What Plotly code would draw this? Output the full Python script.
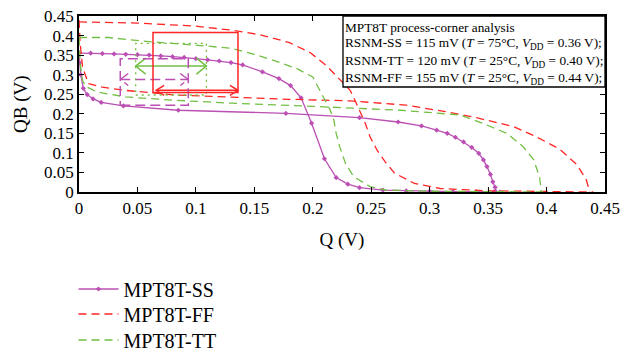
import plotly.graph_objects as go

# ---------------- data ----------------
tick_vals = [0, 0.05, 0.1, 0.15, 0.2, 0.25, 0.3, 0.35, 0.4, 0.45]
tick_text = ["0", "0.05", "0.1", "0.15", "0.2", "0.25", "0.3", "0.35", "0.4", "0.45"]

# SS corner (markers), two butterfly branches
ss_a_x = [0, 0.01, 0.02, 0.03, 0.04, 0.05, 0.06, 0.07, 0.08, 0.09, 0.10, 0.11, 0.12, 0.13,
          0.14, 0.157, 0.171, 0.181, 0.190, 0.199, 0.210, 0.220, 0.230, 0.240, 0.26, 0.28,
          0.30, 0.32, 0.34, 0.355, 0.36]
ss_a_y = [0.355, 0.355, 0.354, 0.353, 0.352, 0.351, 0.350, 0.348, 0.346, 0.344, 0.341, 0.338,
          0.335, 0.331, 0.325, 0.307, 0.290, 0.272, 0.241, 0.176, 0.085, 0.037, 0.020, 0.011,
          0.005, 0.003, 0.002, 0.001, 0.0005, 0.0002, 0]
ss_b_x = [0, 0.0005, 0.0015, 0.0037, 0.007, 0.012, 0.019, 0.038, 0.085, 0.177, 0.240, 0.273,
          0.293, 0.306, 0.315, 0.322, 0.329, 0.336, 0.342, 0.346, 0.349, 0.352, 0.354, 0.356, 0.357]
ss_b_y = [0.355, 0.33, 0.30, 0.265, 0.249, 0.238, 0.229, 0.220, 0.209, 0.201, 0.190, 0.179,
          0.169, 0.158, 0.150, 0.140, 0.128, 0.114, 0.099, 0.082, 0.065, 0.045, 0.026, 0.012, 0]

# FF corner
ff_a_x = [0, 0.05, 0.10, 0.13, 0.155, 0.18, 0.198, 0.212, 0.223, 0.232, 0.236, 0.240, 0.245,
          0.249, 0.255, 0.262, 0.270, 0.287, 0.309, 0.35, 0.40, 0.44]
ff_a_y = [0.435, 0.432, 0.424, 0.414, 0.402, 0.382, 0.356, 0.322, 0.288, 0.260, 0.235, 0.209,
          0.175, 0.141, 0.107, 0.077, 0.048, 0.022, 0.009, 0.003, 0.001, 0]
ff_b_x = [0, 0.001, 0.003, 0.008, 0.02, 0.039, 0.082, 0.131, 0.18, 0.232, 0.2575, 0.28,
          0.3145, 0.34, 0.372, 0.392, 0.411, 0.426, 0.434, 0.437]
ff_b_y = [0.44, 0.38, 0.32, 0.277, 0.268, 0.260, 0.248, 0.242, 0.237, 0.233, 0.228, 0.222,
          0.205, 0.190, 0.167, 0.140, 0.110, 0.070, 0.031, 0]

# TT corner
tt_a_x = [0, 0.025, 0.054, 0.082, 0.11, 0.131, 0.15, 0.165, 0.186, 0.200, 0.206, 0.212, 0.215,
          0.218, 0.220, 0.223, 0.228, 0.235, 0.249, 0.263, 0.30, 0.35, 0.40]
tt_a_y = [0.395, 0.395, 0.386, 0.380, 0.373, 0.367, 0.352, 0.338, 0.316, 0.294, 0.260, 0.230,
          0.209, 0.184, 0.150, 0.116, 0.073, 0.039, 0.014, 0.005, 0.002, 0.001, 0]
tt_b_x = [0, 0.001, 0.003, 0.006, 0.015, 0.04, 0.08, 0.13, 0.20, 0.275, 0.326, 0.346, 0.366,
          0.380, 0.389, 0.394, 0.3955]
tt_b_y = [0.395, 0.33, 0.285, 0.270, 0.256, 0.243, 0.235, 0.227, 0.219, 0.209, 0.197, 0.175,
          0.150, 0.116, 0.082, 0.039, 0]

# SNM squares and arrows (data coordinates)
ff_box = dict(x0=0.0633, x1=0.136, y0=0.2545, y1=0.4077)
ff_arrow = dict(x0=0.066, x1=0.136, y=0.260)
tt_box = dict(x0=0.0485, x1=0.109, y0=0.248, y1=0.380)
tt_arrow = dict(x0=0.0485, x1=0.109, y=0.322)
ss_box = dict(x0=0.0353, x1=0.0935, y0=0.222, y1=0.341)
ss_arrow = dict(x0=0.0353, x1=0.0935, y=0.2876)

info_lines = [
    "MPT8T process-corner analysis",
    "RSNM-SS = 115 mV (<i>T</i> = 75°C, <i>V</i><sub>DD</sub> = 0.36 V);",
    "RSNM-TT = 120 mV (<i>T</i> = 25°C, <i>V</i><sub>DD</sub> = 0.40 V);",
    "RSNM-FF = 155 mV (<i>T</i> = 25°C, <i>V</i><sub>DD</sub> = 0.44 V);",
]

PURPLE = "#bb4fb4"
RED = "#ff2525"
GREEN = "#72bf44"
FONT = "Liberation Serif"

W, H = 623, 353
ML, MR, MT, MB = 79, 18, 16, 161
PW, PH = W - ML - MR, H - MT - MB
XR, YR = 0.45, 0.45
px_x = XR / PW   # data per pixel
px_y = YR / PH

fig = go.Figure()

fig.add_trace(go.Scatter(x=ss_a_x, y=ss_a_y, mode="lines+markers", name="MPT8T-SS",
                         legend="legend",
                         line=dict(color=PURPLE, width=1.3),
                         marker=dict(color=PURPLE, size=4, symbol="diamond")))
fig.add_trace(go.Scatter(x=ss_b_x, y=ss_b_y, mode="lines+markers", showlegend=False,
                         line=dict(color=PURPLE, width=1.3),
                         marker=dict(color=PURPLE, size=4, symbol="diamond")))
fig.add_trace(go.Scatter(x=ff_a_x, y=ff_a_y, mode="lines", name="MPT8T-FF", legend="legend2",
                         line=dict(color=RED, width=1.3, dash="8px,5px")))
fig.add_trace(go.Scatter(x=ff_b_x, y=ff_b_y, mode="lines", showlegend=False,
                         line=dict(color=RED, width=1.3, dash="8px,5px")))
fig.add_trace(go.Scatter(x=tt_a_x, y=tt_a_y, mode="lines", name="MPT8T-TT", legend="legend3",
                         line=dict(color=GREEN, width=1.3, dash="8px,5px")))
fig.add_trace(go.Scatter(x=tt_b_x, y=tt_b_y, mode="lines", showlegend=False,
                         line=dict(color=GREEN, width=1.3, dash="8px,5px")))


def add_arrow(a, color, dash, hx, hy, width):
    dx, dy = hx * px_x, hy * px_y
    xs = [a["x0"] + dx, a["x0"], a["x0"] + dx, None,
          a["x0"], a["x1"], None,
          a["x1"] - dx, a["x1"], a["x1"] - dx]
    ys = [a["y"] + dy, a["y"], a["y"] - dy, None,
          a["y"], a["y"], None,
          a["y"] + dy, a["y"], a["y"] - dy]
    fig.add_trace(go.Scatter(x=xs, y=ys, mode="lines", showlegend=False, hoverinfo="skip",
                             line=dict(color=color, width=width, dash=dash)))


# SS dashed box
fig.add_shape(type="rect", x0=ss_box["x0"], x1=ss_box["x1"], y0=ss_box["y0"], y1=ss_box["y1"],
              line=dict(color=PURPLE, width=1.5, dash="10px,5px"))
add_arrow(ss_arrow, PURPLE, "10px,5px", 8, 6, 1.5)
# TT dotted box
fig.add_shape(type="rect", x0=tt_box["x0"], x1=tt_box["x1"], y0=tt_box["y0"], y1=tt_box["y1"],
              line=dict(color=GREEN, width=1.3, dash="2px,4px"))
add_arrow(tt_arrow, GREEN, "solid", 10, 8, 1.5)
# FF solid box
fig.add_shape(type="rect", x0=ff_box["x0"], x1=ff_box["x1"], y0=ff_box["y0"], y1=ff_box["y1"],
              line=dict(color=RED, width=1.5))
add_arrow(ff_arrow, RED, "solid", 8, 5, 1.5)

# info box
box_left_px = 343
box_bottom_px = 87
fig.add_shape(type="rect", xref="paper", yref="paper",
              x0=(box_left_px - ML) / PW, x1=1.0, y0=(MT + PH - box_bottom_px) / PH, y1=1.0,
              line=dict(color="black", width=1.3), fillcolor="white", layer="above")
line_centers_px = [27, 44, 61, 78]
for txt, yc in zip(info_lines, line_centers_px):
    fig.add_annotation(xref="paper", yref="paper", x=(box_left_px + 1 - ML) / PW,
                       y=(MT + PH - yc) / PH, text=txt, showarrow=False,
                       xanchor="left", yanchor="middle", borderpad=0,
                       font=dict(family=FONT, size=13.3, color="black"))

# y-axis title as a rotated annotation
fig.add_annotation(xref="paper", yref="paper", x=(21 - ML) / PW, y=0.5, text="QB (V)",
                   textangle=-90, showarrow=False, xanchor="center", yanchor="middle",
                   font=dict(family=FONT, size=19, color="black"))

axis_common = dict(range=[0, 0.45], tickvals=tick_vals, ticktext=tick_text,
                   ticks="inside", ticklen=5, tickwidth=1, tickcolor="black",
                   showline=True, linecolor="black", linewidth=1.5, mirror="ticks",
                   showgrid=False, zeroline=False,
                   tickfont=dict(family=FONT, size=17, color="black"))

legend_common = dict(xref="container", yref="container", xanchor="left", yanchor="middle",
                     font=dict(family=FONT, size=20, color="black"),
                     bgcolor="rgba(0,0,0,0)", itemwidth=40, borderwidth=0)
leg_x = 73.5 / W
leg_centers_px = [289, 314, 340]

fig.update_layout(
    width=W, height=H, margin=dict(l=ML, r=MR, t=MT, b=MB, autoexpand=False),
    paper_bgcolor="white", plot_bgcolor="white",
    font=dict(family=FONT, color="black"),
    xaxis=dict(**axis_common, title=dict(text="Q (V)", font=dict(family=FONT, size=19),
                                         standoff=16)),
    yaxis=dict(**axis_common),
    legend=dict(**legend_common, x=leg_x, y=1 - leg_centers_px[0] / H),
    legend2=dict(**legend_common, x=leg_x, y=1 - leg_centers_px[1] / H),
    legend3=dict(**legend_common, x=leg_x, y=1 - leg_centers_px[2] / H),
    showlegend=True,
)

fig.write_html("out.html")
